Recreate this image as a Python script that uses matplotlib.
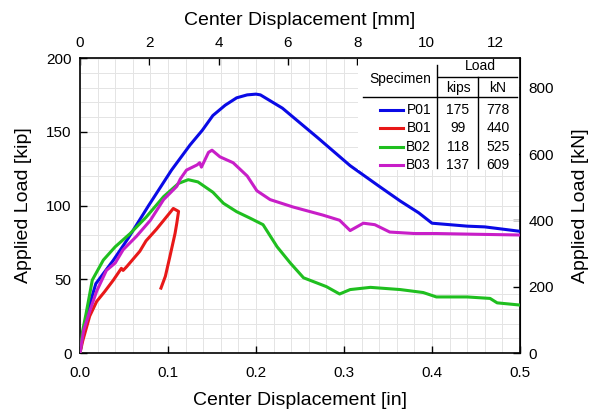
import matplotlib
matplotlib.use("Agg")
import matplotlib.pyplot as plt
from matplotlib.ticker import MultipleLocator, FormatStrFormatter

plt.rcParams["font.family"] = ["Liberation Sans", "DejaVu Sans"]

# data (displacement in inches, load in kips)
p01_x = [0, 0.004, 0.008, 0.018, 0.038, 0.055, 0.078, 0.104, 0.125, 0.139, 0.151,
         0.165, 0.178, 0.19, 0.2, 0.205, 0.23, 0.27, 0.307, 0.34, 0.364, 0.385,
         0.40, 0.42, 0.44, 0.46, 0.48, 0.5]
p01_y = [0, 15, 27, 47, 63, 78, 100, 124, 141, 151, 161,
         168, 173, 175, 175.5, 175, 166, 146, 127, 113, 103, 95,
         88, 87, 86, 85.5, 84, 82.5]

b01_x = [0, 0.003, 0.011, 0.019, 0.028, 0.038, 0.047, 0.049, 0.053, 0.068, 0.075,
         0.087, 0.102, 0.106, 0.112, 0.110, 0.108, 0.102, 0.097, 0.092]
b01_y = [0, 8, 25, 35, 41.6, 49.5, 57.4, 56, 58.5, 69, 76,
         84, 95, 98, 96, 88, 81, 65, 52, 44]

b02_x = [0, 0.003, 0.007, 0.014, 0.0265, 0.04, 0.057, 0.075, 0.095, 0.112, 0.123,
         0.134, 0.151, 0.163, 0.178, 0.193, 0.208, 0.224, 0.239, 0.254, 0.28, 0.295,
         0.307, 0.33, 0.364, 0.39, 0.405, 0.44, 0.466, 0.474, 0.5]
b02_y = [0, 15, 27, 49.5, 63, 72, 81, 92, 106, 115, 117.5,
         116, 109, 101.5, 95.8, 91.5, 87, 72, 61, 51, 45, 40,
         43, 44.5, 43, 41, 38, 38, 37, 34, 32.5]

b03_x = [0, 0.004, 0.012, 0.019, 0.030, 0.040, 0.049, 0.064, 0.080, 0.095, 0.110,
         0.114, 0.121, 0.133, 0.136, 0.138, 0.146, 0.150, 0.159, 0.174, 0.190, 0.201,
         0.216, 0.242, 0.276, 0.295, 0.307, 0.322, 0.335, 0.352, 0.38, 0.405, 0.45, 0.5]
b03_y = [0, 15, 30, 42, 56, 61, 70, 79, 90, 104, 113,
         118, 124, 127.5, 129, 126, 136, 137.5, 133, 129, 120, 110,
         104, 99, 93.5, 90, 83, 88, 87, 82, 81, 81, 80.5, 80]

specimens = ["P01", "B01", "B02", "B03"]
peak_kips = ["175", "99", "118", "137"]
peak_kn = ["778", "440", "525", "609"]
colors = ["#0a0ae6", "#e81818", "#1fbf1f", "#c81ec8"]

KN_PER_KIP = 4.448
MM_PER_IN = 25.4

fig = plt.figure(figsize=(5.93, 4.11), dpi=100)
ax = fig.add_axes([80 / 593, 58 / 411, 440 / 593, 295 / 411])

series = [(p01_x, p01_y), (b01_x, b01_y), (b02_x, b02_y), (b03_x, b03_y)]
for (xs, ys), c in zip(series, colors):
    ax.plot(xs, ys, color=c, lw=2.2, solid_joinstyle="round", zorder=3)

ax.set_xlim(0, 0.5)
ax.set_ylim(0, 200)
ax.xaxis.set_major_locator(MultipleLocator(0.1))
ax.xaxis.set_minor_locator(MultipleLocator(0.02))
ax.yaxis.set_major_locator(MultipleLocator(50))
ax.yaxis.set_minor_locator(MultipleLocator(10))
ax.xaxis.set_major_formatter(FormatStrFormatter("%.1f"))
ax.grid(which="both", color="#e4e4e4", lw=0.7, zorder=0)
ax.set_axisbelow(True)
ax.tick_params(which="major", direction="in", length=5, width=1, labelsize=11, pad=6)
ax.tick_params(axis="x", which="major", pad=9)
ax.tick_params(which="minor", length=0)
for s in ax.spines.values():
    s.set_linewidth(1.2)

ax.set_xlabel("Center Displacement [in]", fontsize=14, labelpad=9)
ax.set_ylabel("Applied Load [kip]", fontsize=14, labelpad=10)

top = ax.secondary_xaxis("top", functions=(lambda v: v * MM_PER_IN, lambda v: v / MM_PER_IN))
top.xaxis.set_major_locator(MultipleLocator(2))
top.tick_params(direction="in", length=5, width=1, labelsize=11, pad=6)
top.set_xlabel("Center Displacement [mm]", fontsize=14, labelpad=8)

right = ax.secondary_yaxis("right", functions=(lambda v: v * KN_PER_KIP, lambda v: v / KN_PER_KIP))
right.yaxis.set_major_locator(MultipleLocator(200))
right.tick_params(direction="in", length=5, width=1, labelsize=11, pad=6)
right.set_ylabel("Applied Load [kN]", fontsize=14, labelpad=13)

# no offset texts anywhere
for a in (ax, top, right):
    a.xaxis.offsetText.set_visible(False)
    a.yaxis.offsetText.set_visible(False)


def ax_pt(px, py):
    return (px - 80) / 440, (353 - py) / 295


# table-style legend
tr = ax.transAxes
x0, y0 = ax_pt(358, 170)
x1, y1 = ax_pt(519, 59)
ax.add_patch(plt.Rectangle((x0, y0), x1 - x0, y1 - y0, transform=tr,
                           facecolor="white", edgecolor="none", zorder=4))

fs = 10
ax.text(*ax_pt(480, 66), "Load", transform=tr, ha="center", va="center", fontsize=fs, zorder=5)
ax.text(*ax_pt(400, 79), "Specimen", transform=tr, ha="center", va="center", fontsize=fs, zorder=5)
ax.text(*ax_pt(458, 88), "kips", transform=tr, ha="center", va="center", fontsize=fs, zorder=5)
ax.text(*ax_pt(498, 88), "kN", transform=tr, ha="center", va="center", fontsize=fs, zorder=5)

lines = [((438, 77), (517, 77)), ((363, 97), (517, 97)),
         ((437, 65), (437, 168)), ((478, 77), (478, 168))]
for (a, b) in lines:
    (xa, ya), (xb, yb) = ax_pt(*a), ax_pt(*b)
    ax.plot([xa, xb], [ya, yb], transform=tr, color="black", lw=1, zorder=5)

row_y = [110, 128, 147, 165]
for name, kip, kn, c, ry in zip(specimens, peak_kips, peak_kn, colors, row_y):
    (lx0, ly), (lx1, _) = ax_pt(380, ry), ax_pt(403, ry)
    ax.plot([lx0, lx1], [ly, ly], transform=tr, color=c, lw=2.2, zorder=5)
    ax.text(ax_pt(431, ry)[0], ly, name, transform=tr, ha="right", va="center", fontsize=fs, zorder=5)
    ax.text(ax_pt(458, ry)[0], ly, kip, transform=tr, ha="center", va="center", fontsize=fs, zorder=5)
    ax.text(ax_pt(498, ry)[0], ly, kn, transform=tr, ha="center", va="center", fontsize=fs, zorder=5)

fig.savefig("out.png", dpi=100)
